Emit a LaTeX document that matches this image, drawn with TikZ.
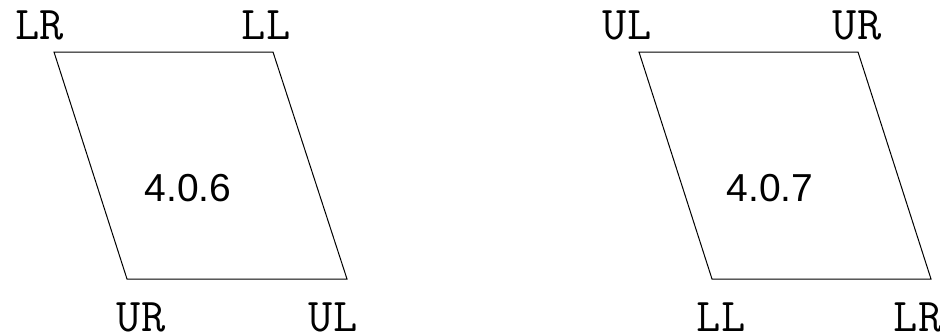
\documentclass[tikz,border=0pt]{standalone}
\usepackage{fontspec}
\setmainfont{Liberation Sans}
\usepackage{tikz}
\usetikzlibrary{positioning, calc}

\begin{document}
\begin{tikzpicture}[
    x=1pt, y=-1pt,
    edge/.style={draw=black, line width=1pt, line join=miter},
    corner/.style={inner sep=0pt, anchor=base, font=\ttfamily\fontsize{47}{47}\selectfont},
    tag/.style={inner sep=0pt, font=\fontsize{39}{39}\selectfont}
  ]
  \useasboundingbox (0,0) rectangle (940,335);
  % left face
  \coordinate (a1) at (54,52);
  \coordinate (a2) at (273,52);
  \coordinate (a3) at (347,279);
  \coordinate (a4) at (127,279);
  \draw[edge] (a1) -- (a2) -- (a3) -- (a4) -- cycle;
  \node[corner] (aLR) at (40,39) {LR};
  \node[corner] (aLL) at (266,39) {LL};
  \node[corner] (aUR) at (141,331) {UR};
  \node[corner] (aUL) at (333,331) {UL};
  \node[tag] (aname) at (188,188) {4.0.6};
  % right face
  \coordinate (b1) at (639,52);
  \coordinate (b2) at (858,52);
  \coordinate (b3) at (931,279);
  \coordinate (b4) at (712,279);
  \draw[edge] (b1) -- (b2) -- (b3) -- (b4) -- cycle;
  \node[corner] (bUL) at (627,39) {UL};
  \node[corner] (bUR) at (857,39) {UR};
  \node[corner] (bLL) at (721,331) {LL};
  \node[corner] (bLR) at (918,331) {LR};
  \node[tag] (bname) at (770,188) {4.0.7};
\end{tikzpicture}
\end{document}
